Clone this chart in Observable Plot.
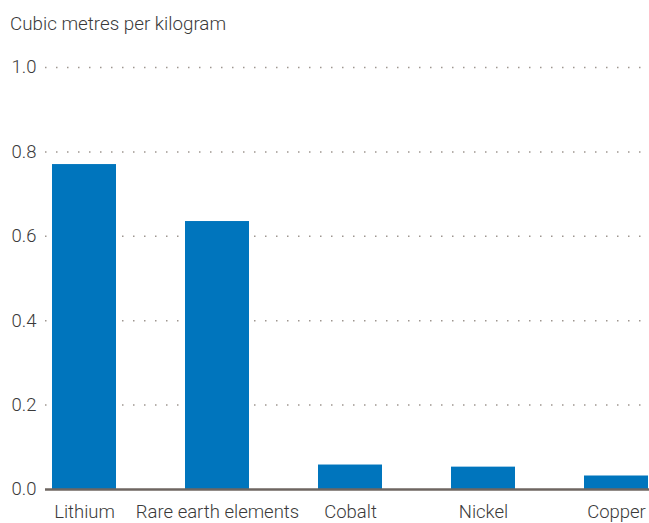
<!DOCTYPE html>
<html>
<head>
<meta charset="utf-8">
<script src="https://cdn.jsdelivr.net/npm/d3@7"></script>
<script src="https://cdn.jsdelivr.net/npm/@observablehq/plot@0.6"></script>
<style>
  body { margin: 0; background: #fff; font-family: Roboto, sans-serif; }
  #title { height: 48px; box-sizing: border-box; padding: 15px 0 0 10px; font-size: 18.8px; font-weight: 300; color: #3a3a3a; line-height: 1; }
  #chart svg text { font-weight: 300; }
</style>
</head>
<body>
<div id="title">Cubic metres per kilogram</div>
<div id="chart"></div>
<script>
const categories = ["Lithium", "Rare earth elements", "Cobalt", "Nickel", "Copper"];
const values = [0.77, 0.635, 0.058, 0.053, 0.032];
const yTicks = [0, 0.2, 0.4, 0.6, 0.8, 1.0];

const data = categories.map((c, i) => ({ category: c, value: values[i] }));

const chart = Plot.plot({
  width: 649,
  height: 475,
  marginLeft: 45,
  marginRight: 0,
  marginTop: 19,
  marginBottom: 34,
  style: { fontFamily: "Roboto, sans-serif", fontSize: "18.5px", color: "#3a3a3a", background: "#fff" },
  x: { domain: categories, paddingInner: 0.52, paddingOuter: 0.0263, align: 0.857, label: null },
  y: { domain: [0, 1], label: null },
  marks: [
    Plot.ruleY(yTicks.filter(d => d > 0), { stroke: "#9e9690", strokeWidth: 1.5, strokeDasharray: "1.5 9.5" }),
    Plot.barY(data, { x: "category", y: "value", fill: "#0075bd" }),
    Plot.ruleY([0], { stroke: "#6e6661", strokeWidth: 2.5 }),
    Plot.axisY(yTicks, { tickSize: 0, tickPadding: 9, tickFormat: d => d.toFixed(1), fontSize: 18.5, fill: "#3a3a3a", label: null }),
    Plot.axisX({ tickSize: 0, tickPadding: 15, fontSize: 18.5, fill: "#3a3a3a", label: null })
  ]
});
document.getElementById("chart").appendChild(chart);
</script>
</body>
</html>
